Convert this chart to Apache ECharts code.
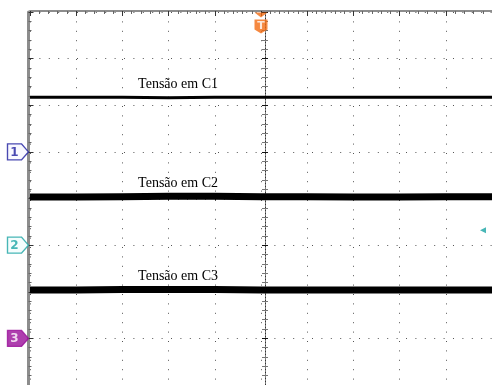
<!DOCTYPE html>
<html>
<head>
<meta charset="utf-8">
<script src="https://cdn.jsdelivr.net/npm/echarts@6/dist/echarts.min.js"></script>
<style>
  html, body { margin: 0; padding: 0; background: #fff; }
  #scope { width: 492px; height: 385px; }
</style>
</head>
<body>
<div id="scope"></div>
<script>
// Horizontal sample positions, in screen divisions
const timeDiv = [0, 1, 2, 3, 4, 5, 6, 7, 8, 9, 10];
// Trace levels, in vertical divisions from the screen centre
const tensaoC1 = [2.17, 2.17, 2.17, 2.16, 2.17, 2.17, 2.17, 2.17, 2.17, 2.17, 2.17];
const tensaoC2 = [0.03, 0.03, 0.04, 0.05, 0.05, 0.04, 0.04, 0.03, 0.03, 0.04, 0.04];
const tensaoC3 = [-1.96, -1.96, -1.95, -1.95, -1.95, -1.96, -1.96, -1.96, -1.96, -1.96, -1.96];
const traceNames = ['Tensão em C1', 'Tensão em C2', 'Tensão em C3'];
// Channel ground markers (divisions) and trigger settings
const channelLabels = ['1', '2', '3'];
const channelZero = [1, -1, -3];
const triggerPos = 5;
const triggerLevel = -0.68;

const traces = [tensaoC1, tensaoC2, tensaoC3];
const traceWidths = [3, 7, 7];
const labelAt = 2.34;

const chart = echarts.init(document.getElementById('scope'), null, { renderer: 'canvas' });

const hidden = { show: false };
// Screen border axes (top and left) with inward graticule ticks
const borderX = {
  type: 'value', min: 0, max: 10, interval: 1, position: 'top', offset: 1,
  axisLine: { show: true, onZero: false, lineStyle: { color: '#8c8c8c', width: 2 } },
  axisTick: { show: true, inside: true, length: 5, lineStyle: { color: '#333' } },
  minorTick: { show: true, splitNumber: 5, length: 3, lineStyle: { color: '#666' } },
  axisLabel: hidden,
  splitLine: { show: true, lineStyle: { color: '#555', width: 1, type: [1, 8.4] } }
};
const borderY = {
  type: 'value', min: -4, max: 4, interval: 1, position: 'left', offset: 1.5,
  axisLine: { show: true, onZero: false, lineStyle: { color: '#8c8c8c', width: 3 } },
  axisTick: { show: true, inside: true, length: 5, lineStyle: { color: '#333' } },
  minorTick: { show: true, splitNumber: 5, length: 3, lineStyle: { color: '#666' } },
  axisLabel: hidden,
  splitLine: { show: true, lineStyle: { color: '#555', width: 1, type: [1, 8.4] } }
};
// Centre crosshair: two axes per direction give ticks on both sides
function centreX(inside) {
  return {
    type: 'value', min: 0, max: 10, interval: 1, position: 'bottom', offset: -188,
    axisLine: { show: true, onZero: false, lineStyle: { color: '#333', width: 1, type: [1, 2] } },
    axisTick: { show: true, inside: inside, length: 3, lineStyle: { color: '#111' } },
    minorTick: { show: true, splitNumber: 5, length: 3, lineStyle: { color: '#777' } },
    axisLabel: hidden, splitLine: hidden
  };
}
function centreY(inside) {
  return {
    type: 'value', min: -4, max: 4, interval: 1, position: 'left', offset: -235,
    axisLine: { show: true, onZero: false, lineStyle: { color: '#333', width: 1, type: [1, 2] } },
    axisTick: { show: true, inside: inside, length: 3, lineStyle: { color: '#111' } },
    minorTick: { show: true, splitNumber: 5, length: 3, lineStyle: { color: '#777' } },
    axisLabel: hidden, splitLine: hidden
  };
}

const series = traces.map((vals, i) => ({
  type: 'line',
  xAxisIndex: 0, yAxisIndex: 0,
  data: timeDiv.map((t, k) => [t, vals[k]]),
  showSymbol: false, smooth: false, animation: false,
  lineStyle: { color: '#000', width: traceWidths[i] },
  z: 5,
  markPoint: {
    symbol: 'circle', symbolSize: 0, animation: false,
    data: [{ coord: [labelAt, vals[2]] }],
    label: {
      show: true, position: 'inside', formatter: traceNames[i],
      align: 'left', verticalAlign: 'bottom', offset: [0, -6],
      color: '#000', fontFamily: 'Liberation Serif', fontSize: 14
    }
  }
}));

// Channel ground-level markers on the left edge
const chanStyle = [
  { fill: '#f6f6ff', stroke: '#1c1c9e', text: '#1c1c9e' },
  { fill: '#f2fdfd', stroke: '#1aa4a4', text: '#1aa4a4' },
  { fill: '#9a0f9a', stroke: '#9a0f9a', text: '#ffffff' }
];
series.push({
  type: 'scatter', xAxisIndex: 0, yAxisIndex: 0, clip: false, animation: false, z: 10,
  symbol: 'path://M0,0 L14,0 L21,8 L14,16 L0,16 Z',
  symbolSize: [21, 16], symbolOffset: [-12, 0],
  data: channelZero.map((v, i) => ({
    value: [0, v],
    itemStyle: { color: chanStyle[i].fill, borderColor: chanStyle[i].stroke, borderWidth: 1.2 },
    label: {
      show: true, position: 'inside', formatter: channelLabels[i], offset: [-3.5, 0.5],
      color: chanStyle[i].text, fontFamily: 'DejaVu Sans', fontWeight: 'bold', fontSize: 12
    }
  }))
});
// Trigger position marker at the top
series.push({
  type: 'scatter', xAxisIndex: 0, yAxisIndex: 0, clip: false, animation: false, z: 10,
  symbol: 'path://M0,0 L12,0 L6,5 Z M0,7 L12,7 L12,17 L6,21 L0,17 Z',
  symbolSize: [13, 21], symbolOffset: [0, 11],
  itemStyle: { color: '#f26a10' },
  data: [{
    value: [triggerPos, 4],
    label: {
      show: true, position: 'inside', formatter: 'T', offset: [0, 3],
      color: '#fff', fontFamily: 'DejaVu Sans', fontWeight: 'bold', fontSize: 11
    }
  }]
});
// Trigger level marker at the right edge
series.push({
  type: 'scatter', xAxisIndex: 0, yAxisIndex: 0, clip: false, animation: false, z: 10,
  symbol: 'path://M6,0 L0,3 L6,6 Z', symbolSize: [6, 6], symbolOffset: [-9, 0],
  itemStyle: { color: '#1aa4a4' },
  data: [[10, triggerLevel]]
});

chart.setOption({
  animation: false,
  backgroundColor: '#ffffff',
  grid: { left: 30, top: 12, width: 470, height: 376, containLabel: false },
  xAxis: [borderX, centreX(true), centreX(false)],
  yAxis: [borderY, centreY(true), centreY(false)],
  series: series
});
</script>
</body>
</html>
